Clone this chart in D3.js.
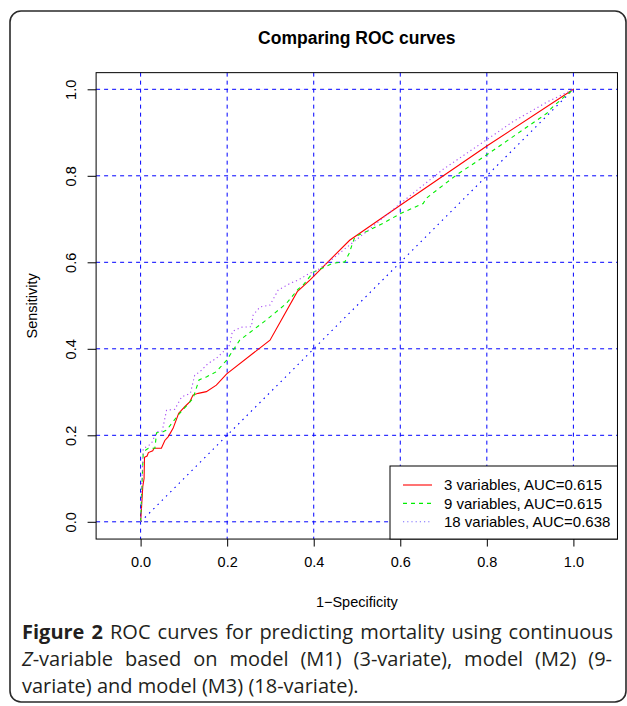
<!DOCTYPE html>
<html><head><meta charset="utf-8">
<script src="https://cdn.jsdelivr.net/npm/d3@7"></script>
<style>body{margin:0;background:#fff}svg{display:block}</style>
</head><body>
<script>
// ---- data ----
const fpr3 = [0, 0.002, 0.005, 0.008, 0.009, 0.015, 0.018, 0.028, 0.031, 0.048, 0.056, 0.064, 0.075, 0.088, 0.102, 0.114, 0.121, 0.133, 0.152, 0.175, 0.199, 0.299, 0.362, 0.391, 0.483, 0.6, 0.8, 1];
const tpr3 = [0, 0.03, 0.081, 0.10, 0.149, 0.152, 0.16, 0.164, 0.17, 0.17, 0.188, 0.197, 0.216, 0.251, 0.266, 0.278, 0.293, 0.297, 0.301, 0.316, 0.342, 0.42, 0.532, 0.559, 0.651, 0.732, 0.869, 1];
const fpr9 = [0, 0.003, 0.006, 0.012, 0.018, 0.033, 0.037, 0.052, 0.06, 0.087, 0.106, 0.121, 0.135, 0.152, 0.175, 0.199, 0.229, 0.291, 0.337, 0.364, 0.376, 0.399, 0.445, 0.472, 0.482, 0.495, 0.522, 0.56, 0.599, 0.653, 0.66, 0.73, 0.799, 0.938, 0.953, 0.984, 1];
const tpr9 = [0, 0.08, 0.158, 0.166, 0.17, 0.17, 0.206, 0.208, 0.212, 0.247, 0.268, 0.285, 0.328, 0.335, 0.347, 0.374, 0.42, 0.467, 0.505, 0.538, 0.548, 0.577, 0.598, 0.601, 0.621, 0.659, 0.671, 0.69, 0.712, 0.736, 0.748, 0.802, 0.848, 0.944, 0.96, 0.987, 1];
const fpr18 = [0, 0.003, 0.006, 0.015, 0.025, 0.037, 0.05, 0.06, 0.079, 0.095, 0.115, 0.125, 0.137, 0.156, 0.175, 0.195, 0.206, 0.212, 0.233, 0.256, 0.26, 0.276, 0.299, 0.318, 0.345, 0.364, 0.391, 0.406, 0.44, 0.468, 0.522, 0.599, 0.699, 0.799, 0.86, 0.938, 1];
const tpr18 = [0, 0.09, 0.17, 0.174, 0.181, 0.208, 0.21, 0.258, 0.26, 0.289, 0.297, 0.339, 0.347, 0.366, 0.378, 0.397, 0.409, 0.44, 0.45, 0.451, 0.478, 0.497, 0.501, 0.536, 0.551, 0.559, 0.575, 0.58, 0.605, 0.628, 0.671, 0.735, 0.815, 0.883, 0.925, 0.97, 1];
const seriesNames = ["3 variables, AUC=0.615", "9 variables, AUC=0.615", "18 variables, AUC=0.638"];
const tickValues = [0, 0.2, 0.4, 0.6, 0.8, 1.0];
const tickLabels = ["0.0", "0.2", "0.4", "0.6", "0.8", "1.0"];
const chartTitle = "Comparing ROC curves";
const xTitle = "1\u2212Specificity";
const yTitle = "Sensitivity";

const W = 627, H = 706;
const svg = d3.select("body").append("svg").attr("width", W).attr("height", H);
const font = "'Liberation Sans', Arial, Helvetica, sans-serif";

// outer frame
svg.append("rect").attr("x", 10).attr("y", 11).attr("width", 616).attr("height", 691)
  .attr("rx", 11).attr("fill", "none").attr("stroke", "#2a2a2a").attr("stroke-width", 1.6);

const x = d3.scaleLinear().domain([0, 1]).range([140.6, 573.4]);
const y = d3.scaleLinear().domain([0, 1]).range([521.8, 89.3]);
const box = {x0: x(-0.1028), x1: x(1.1018), y0: y(1.0385), y1: y(-0.0399)};

// gridlines
const grid = svg.append("g").attr("stroke", "#0000ff").attr("stroke-width", 1).attr("stroke-dasharray", "4,4");
tickValues.forEach(v => {
  grid.append("line").attr("x1", x(v)).attr("x2", x(v)).attr("y1", box.y0).attr("y2", box.y1);
  grid.append("line").attr("y1", y(v)).attr("y2", y(v)).attr("x1", box.x0).attr("x2", box.x1);
});

// diagonal
svg.append("line").attr("x1", x(0)).attr("y1", y(0)).attr("x2", x(1)).attr("y2", y(1))
  .attr("stroke", "#0000ff").attr("stroke-width", 1.1).attr("stroke-dasharray", "1.5,4.5");

const line = d3.line().x(d => x(d[0])).y(d => y(d[1]));
const series = [
  {xs: fpr3, ys: tpr3, color: "#ff0000", dash: null},
  {xs: fpr9, ys: tpr9, color: "#00ee00", dash: "4,4"},
  {xs: fpr18, ys: tpr18, color: "#a64bf4", dash: "1.2,3"}
];
series.forEach(s => {
  svg.append("path").attr("d", line(d3.zip(s.xs, s.ys))).attr("fill", "none")
    .attr("stroke", s.color).attr("stroke-width", 1.1)
    .attr("stroke-dasharray", s.dash);
});

// plot box
svg.append("rect").attr("x", box.x0).attr("y", box.y0).attr("width", box.x1 - box.x0)
  .attr("height", box.y1 - box.y0).attr("fill", "none").attr("stroke", "#000").attr("stroke-width", 1);

// axes
const axFont = 14.5;
const xAxis = d3.axisBottom(x).tickValues(tickValues).tickFormat((d, i) => tickLabels[i]).tickSize(7.5).tickPadding(10);
const gx = svg.append("g").attr("transform", `translate(0,${box.y1})`).call(xAxis);
gx.select(".domain").remove();
gx.selectAll("text").attr("font-family", font).attr("font-size", axFont).attr("fill", "#000");
gx.selectAll("line").attr("stroke", "#000");

const yAxis = d3.axisLeft(y).tickValues(tickValues).tickFormat((d, i) => tickLabels[i]).tickSize(8.5);
const gy = svg.append("g").attr("transform", `translate(${box.x0},0)`).call(yAxis);
gy.select(".domain").remove();
gy.selectAll("line").attr("stroke", "#000");
gy.selectAll("text").attr("font-family", font).attr("font-size", axFont).attr("fill", "#000")
  .attr("x", 0).attr("dy", 0).attr("text-anchor", "middle")
  .attr("transform", "translate(-20,0) rotate(-90)");

// titles
svg.append("text").attr("x", (box.x0 + box.x1) / 2).attr("y", 44).attr("text-anchor", "middle")
  .attr("font-family", font).attr("font-weight", "bold").attr("font-size", 17.5).text(chartTitle);
svg.append("text").attr("x", (box.x0 + box.x1) / 2).attr("y", 607).attr("text-anchor", "middle")
  .attr("font-family", font).attr("font-size", axFont).text(xTitle);
svg.append("text").attr("transform", `translate(37,${(box.y0 + box.y1) / 2}) rotate(-90)`)
  .attr("text-anchor", "middle").attr("font-family", font).attr("font-size", axFont).text(yTitle);

// legend
const lg = svg.append("g");
lg.append("rect").attr("x", 390).attr("y", 466).attr("width", box.x1 - 390).attr("height", box.y1 - 466)
  .attr("fill", "#fff").attr("stroke", "#000").attr("stroke-width", 1);
const legColors = ["#ff0000", "#00ee00", "#7a6bff"];
const legDash = [null, "4,4", "1.2,3"];
seriesNames.forEach((n, i) => {
  const yy = 485 + i * 18.4;
  lg.append("line").attr("x1", 403).attr("x2", 432).attr("y1", yy).attr("y2", yy)
    .attr("stroke", legColors[i]).attr("stroke-width", 1.1).attr("stroke-dasharray", legDash[i]);
  lg.append("text").attr("x", 444).attr("y", yy + 5.3).attr("font-family", font).attr("font-size", 15).text(n);
});

// caption
const capFont = "'Open Sans', 'Noto Sans', sans-serif";
const capSize = 20;
const capLines = [
  [{t: "Figure 2", w: "bold"}, {t: " ROC curves for predicting mortality using continuous"}],
  [{t: "Z", s: "italic"}, {t: "-variable based on model (M1) (3-variate), model (M2) (9-"}],
  [{t: "variate) and model (M3) (18-variate)."}]
];
const capY = [639, 666, 693];
const capTargets = [591, 590, null];
capLines.forEach((parts, i) => {
  const t = svg.append("text").attr("x", 22).attr("y", capY[i]).attr("font-family", capFont)
    .attr("font-size", capSize).attr("fill", "#231f20");
  parts.forEach(p => {
    t.append("tspan").attr("font-weight", p.w || null).attr("font-style", p.s || null).text(p.t);
  });
  if (capTargets[i]) {
    const nat = t.node().getComputedTextLength();
    if (nat > capTargets[i]) {
      t.attr("textLength", capTargets[i]).attr("lengthAdjust", "spacingAndGlyphs");
    } else {
      const full = parts.map(p => p.t).join("");
      const spaces = (full.match(/ /g) || []).length;
      t.attr("word-spacing", (capTargets[i] - nat) / spaces);
    }
  }
});
</script>
</body></html>
